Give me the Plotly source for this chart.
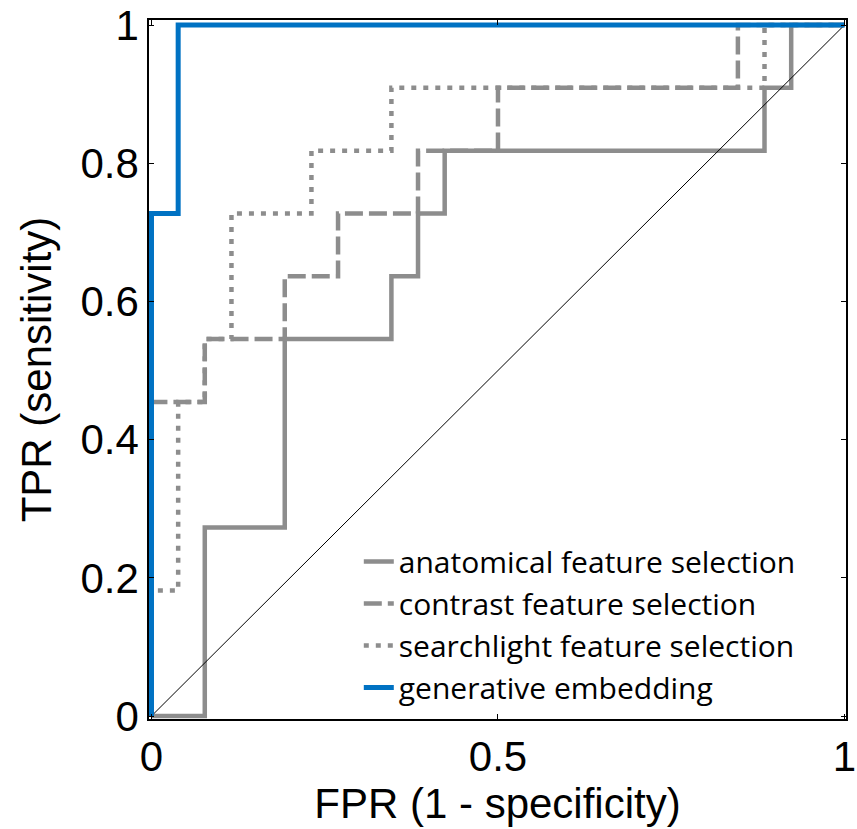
import plotly.graph_objects as go

# ROC curves (FPR, TPR)
anat_fpr = [0, 0.0769, 0.0769, 0.1923, 0.1923, 0.3462, 0.3462, 0.3846, 0.3846, 0.4231, 0.4231, 0.8846, 0.8846, 0.9231, 0.9231, 1]
anat_tpr = [0, 0, 0.2727, 0.2727, 0.5455, 0.5455, 0.6364, 0.6364, 0.7273, 0.7273, 0.8182, 0.8182, 0.9091, 0.9091, 1, 1]

contrast_fpr = [0, 0, 0.0769, 0.0769, 0.1923, 0.1923, 0.2692, 0.2692, 0.3846, 0.3846, 0.5, 0.5, 0.8462, 0.8462, 1]
contrast_tpr = [0, 0.4545, 0.4545, 0.5455, 0.5455, 0.6364, 0.6364, 0.7273, 0.7273, 0.8182, 0.8182, 0.9091, 0.9091, 1, 1]

search_fpr = [0, 0, 0.0385, 0.0385, 0.0769, 0.0769, 0.1154, 0.1154, 0.2308, 0.2308, 0.3462, 0.3462, 0.8846, 0.8846, 1]
search_tpr = [0, 0.1818, 0.1818, 0.4545, 0.4545, 0.5455, 0.5455, 0.7273, 0.7273, 0.8182, 0.8182, 0.9091, 0.9091, 1, 1]

gen_fpr = [0, 0, 0.0385, 0.0385, 1]
gen_tpr = [0, 0.7273, 0.7273, 1, 1]

chance_fpr = [0, 1]
chance_tpr = [0, 1]

names = ["anatomical feature selection", "contrast feature selection",
         "searchlight feature selection", "generative embedding"]

x_ticks = [0, 0.5, 1]
x_ticktext = ["0", "0.5", "1"]
y_ticks = [0, 0.2, 0.4, 0.6, 0.8, 1]
y_ticktext = ["0", "0.2", "0.4", "0.6", "0.8", "1"]

GRAY = "#8d8d8d"
BLUE = "#0072c3"

fig = go.Figure()
fig.add_trace(go.Scatter(x=anat_fpr, y=anat_tpr, mode="lines", name=names[0],
                         line=dict(color=GRAY, width=4.5)))
fig.add_trace(go.Scatter(x=contrast_fpr, y=contrast_tpr, mode="lines", name=names[1],
                         line=dict(color=GRAY, width=4.5, dash="18px,6px")))
fig.add_trace(go.Scatter(x=search_fpr, y=search_tpr, mode="lines", name=names[2],
                         line=dict(color=GRAY, width=4.5, dash="5px,7px")))
fig.add_trace(go.Scatter(x=chance_fpr, y=chance_tpr, mode="lines", showlegend=False,
                         line=dict(color="black", width=1)))
fig.add_trace(go.Scatter(x=gen_fpr, y=gen_tpr, mode="lines", name=names[3],
                         line=dict(color=BLUE, width=5)))

axis_font = dict(family="Liberation Sans, Arial, sans-serif", size=42, color="black")

fig.update_layout(
    width=857, height=829,
    margin=dict(l=149, r=10.5, t=20, b=110, pad=0),
    paper_bgcolor="white", plot_bgcolor="white",
    showlegend=True,
    legend=dict(x=0.301, y=0.2625, xanchor="left", yanchor="top",
                bgcolor="rgba(0,0,0,0)", borderwidth=0,
                font=dict(family="Open Sans, sans-serif", size=30, color="black")),
    xaxis=dict(range=[-0.0036, 1.0022], tickvals=x_ticks, ticktext=x_ticktext,
               automargin=False,
               showgrid=False, zeroline=False, showline=True, linecolor="black",
               linewidth=1.5, mirror="ticks", ticks="inside", ticklen=5, tickwidth=1,
               tickcolor="black", tickfont=axis_font,
               title=dict(text="FPR (1 - specificity)", font=axis_font, standoff=0)),
    yaxis=dict(range=[-0.00434, 1.00724], tickvals=y_ticks, ticktext=y_ticktext,
               automargin=False,
               showgrid=False, zeroline=False, showline=True, linecolor="black",
               linewidth=1.5, mirror="ticks", ticks="inside", ticklen=5, tickwidth=1,
               tickcolor="black", tickfont=axis_font,
               title=dict(text="TPR (sensitivity)", font=axis_font, standoff=16)),
)

fig.write_html("out.html")
